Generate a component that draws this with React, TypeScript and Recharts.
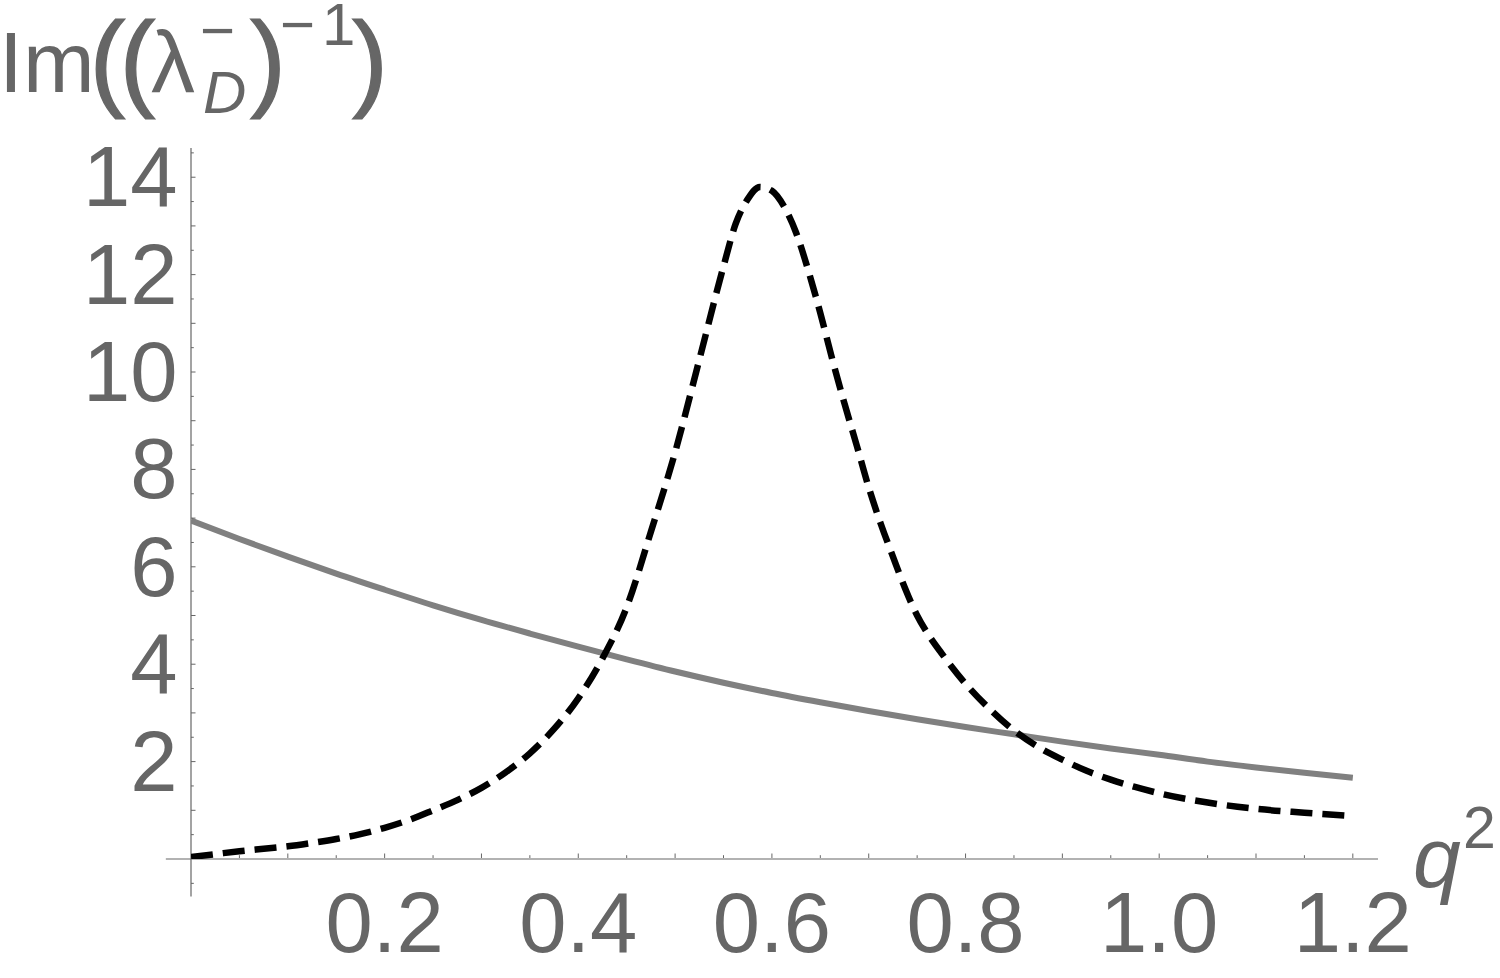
import React from 'react';
import { LineChart, Line, XAxis, YAxis, ReferenceLine } from 'recharts';

// ---- data ----
const Q2_SOLID = [0, 0.05, 0.1, 0.15, 0.2, 0.25, 0.3, 0.35, 0.4, 0.45, 0.5, 0.55, 0.6, 0.65, 0.7, 0.75, 0.8, 0.85, 0.9, 0.95, 1.0, 1.05, 1.1, 1.15, 1.2];
const IM_SOLID = [6.95, 6.57, 6.21, 5.86, 5.53, 5.21, 4.91, 4.63, 4.36, 4.1, 3.85, 3.62, 3.41, 3.22, 3.04, 2.87, 2.71, 2.56, 2.41, 2.27, 2.14, 2.0, 1.88, 1.77, 1.67];

const Q2_DASHED = [0, 0.025, 0.05, 0.075, 0.1, 0.125, 0.15, 0.175, 0.2, 0.225, 0.25, 0.275, 0.3, 0.325, 0.35, 0.375, 0.4, 0.425, 0.45, 0.475, 0.5, 0.525, 0.55, 0.5625, 0.575, 0.5875, 0.6, 0.6125, 0.625, 0.6375, 0.65, 0.6625, 0.675, 0.6875, 0.7, 0.7125, 0.725, 0.7375, 0.75, 0.7625, 0.775, 0.8, 0.825, 0.85, 0.875, 0.9, 0.925, 0.95, 0.975, 1.0, 1.05, 1.1, 1.15, 1.2];
const IM_DASHED = [0.04, 0.1, 0.16, 0.21, 0.26, 0.33, 0.41, 0.51, 0.64, 0.8, 1.0, 1.21, 1.46, 1.78, 2.17, 2.67, 3.3, 4.12, 5.17, 6.72, 8.35, 10.25, 12.17, 13.04, 13.55, 13.8, 13.72, 13.4, 12.86, 12.09, 11.21, 10.25, 9.35, 8.5, 7.63, 6.88, 6.21, 5.56, 5.0, 4.58, 4.23, 3.6, 3.08, 2.64, 2.3, 2.04, 1.81, 1.63, 1.48, 1.35, 1.16, 1.03, 0.95, 0.88];

const X_TICKS = [0.05, 0.1, 0.15, 0.2, 0.25, 0.3, 0.35, 0.4, 0.45, 0.5, 0.55, 0.6, 0.65, 0.7, 0.75, 0.8, 0.85, 0.9, 0.95, 1.0, 1.05, 1.1, 1.15, 1.2];
const X_LABELED = [0.2, 0.4, 0.6, 0.8, 1.0, 1.2];
const Y_TICKS = [-0.5, 0.5, 1, 1.5, 2, 2.5, 3, 3.5, 4, 4.5, 5, 5.5, 6, 6.5, 7, 7.5, 8, 8.5, 9, 9.5, 10, 10.5, 11, 11.5, 12, 12.5, 13, 13.5, 14, 14.5];
const Y_LABELED = [2, 4, 6, 8, 10, 12, 14];

const X_DOMAIN: [number, number] = [0, 1.226];
const Y_DOMAIN: [number, number] = [0, 14.6];
const X_AXIS_START = -0.026;
const Y_AXIS_START = -0.77;

const solidData = Q2_SOLID.map((x, i) => ({ x, y: IM_SOLID[i] }));
const dashedData = Q2_DASHED.map((x, i) => ({ x, y: IM_DASHED[i] }));

const GRAY = '#666666';
const FONT = '"Liberation Sans", Arial, Helvetica, sans-serif';

const isIn = (v: number, arr: number[]) => arr.some((a) => Math.abs(a - v) < 1e-6);

const XTick = (props: any) => {
  const { x, y, payload } = props;
  const v = payload.value as number;
  const yy = y - 1;
  const major = Math.abs(v * 10 - Math.round(v * 10)) < 1e-6;
  return (
    <g>
      <line x1={x} x2={x} y1={yy} y2={yy - (major ? 4.5 : 2.8)} stroke={GRAY} strokeWidth={1} />
      {isIn(v, X_LABELED) && (
        <text x={x} y={yy + 94} textAnchor="middle" fontSize={85} fill={GRAY} fontFamily={FONT}>
          {v.toFixed(1)}
        </text>
      )}
    </g>
  );
};

const YTick = (props: any) => {
  const { x, y, payload } = props;
  const v = payload.value as number;
  const major = Math.abs(v - Math.round(v)) < 1e-6;
  return (
    <g>
      <line x1={x} x2={x + (major ? 4.5 : 2.8)} y1={y} y2={y} stroke={GRAY} strokeWidth={1} />
      {isIn(v, Y_LABELED) && (
        <text x={x - 13.5} y={y + 29} textAnchor="end" fontSize={85} fill={GRAY} fontFamily={FONT}>
          {String(v)}
        </text>
      )}
    </g>
  );
};

const Title = () => (
  <g fill={GRAY} fontFamily={FONT}>
    <text x={-1} y={92} fontSize={86}>Im</text>
    <text x={89.5} y={97} fontSize={108} stroke={GRAY} strokeWidth={1.2}>(</text>
    <text x={119.5} y={97} fontSize={108} stroke={GRAY} strokeWidth={1.2}>(</text>
    <text x={151} y={92} fontSize={88}>λ</text>
    <text x={200} y={51} fontSize={60}>−</text>
    <text x={203} y={113} fontSize={60} fontStyle="italic">D</text>
    <text x={250} y={97} fontSize={108} stroke={GRAY} strokeWidth={1.2}>)</text>
    <text x={280} y={45} fontSize={60}>−</text>
    <text x={322} y={45} fontSize={60}>1</text>
    <text x={352} y={97} fontSize={108} stroke={GRAY} strokeWidth={1.2}>)</text>
    <text x={1413} y={887} fontSize={86} fontStyle="italic">q</text>
    <text x={1463} y={848} fontSize={59}>2</text>
  </g>
);

export default function App() {
  return (
    <div style={{ position: 'absolute', left: 0, top: 0, width: 1500, height: 978, background: '#fff' }}>
      <LineChart
        width={1500}
        height={978}
        margin={{ top: 148, right: 122, bottom: 118, left: 190 }}
      >
        <XAxis
          type="number"
          dataKey="x"
          domain={X_DOMAIN}
          allowDataOverflow
          ticks={X_TICKS}
          interval={0}
          height={1}
          tickSize={0}
          tickMargin={0}
          tickLine={false}
          axisLine={false}
          tick={<XTick />}
        />
        <YAxis
          type="number"
          dataKey="y"
          domain={Y_DOMAIN}
          allowDataOverflow
          ticks={Y_TICKS}
          interval={0}
          width={1}
          tickSize={0}
          tickMargin={0}
          tickLine={false}
          axisLine={false}
          tick={<YTick />}
        />
        <ReferenceLine
          segment={[{ x: X_AXIS_START, y: 0 }, { x: X_DOMAIN[1], y: 0 }]}
          stroke={GRAY}
          strokeWidth={1.2}
          ifOverflow="visible"
        />
        <ReferenceLine
          segment={[{ x: 0, y: Y_AXIS_START }, { x: 0, y: Y_DOMAIN[1] }]}
          stroke={GRAY}
          strokeWidth={1.2}
          ifOverflow="visible"
        />
        <Line
          data={solidData}
          dataKey="y"
          type="monotone"
          stroke="#808080"
          strokeWidth={6}
          dot={false}
          activeDot={false}
          isAnimationActive={false}
        />
        <Line
          data={dashedData}
          dataKey="y"
          type="monotone"
          stroke="#000000"
          strokeWidth={6.5}
          strokeDasharray="22 10"
          dot={false}
          activeDot={false}
          isAnimationActive={false}
        />
        <Title />
      </LineChart>
    </div>
  );
}
